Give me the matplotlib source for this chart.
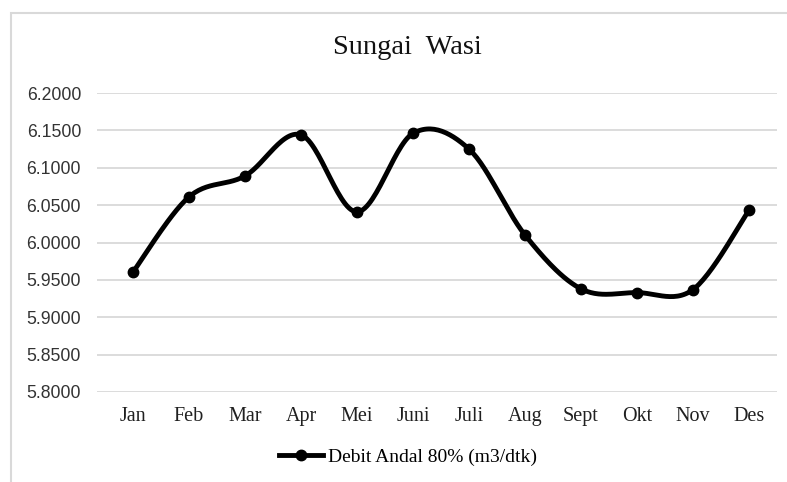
import numpy as np
import matplotlib
matplotlib.use('Agg')
import matplotlib.pyplot as plt
from matplotlib.lines import Line2D
from matplotlib.patches import Rectangle

# data
bulan = ['Jan', 'Feb', 'Mar', 'Apr', 'Mei', 'Juni', 'Juli', 'Aug', 'Sept', 'Okt', 'Nov', 'Des']
debit = [5.9605, 6.0610, 6.0890, 6.1440, 6.0410, 6.1460, 6.1250, 6.0100, 5.9380, 5.9330, 5.9370, 6.0430]
y_ticks = [5.80, 5.85, 5.90, 5.95, 6.00, 6.05, 6.10, 6.15, 6.20]


def smooth(x, y, n=30):
    # excel style smoothing (catmull-rom as bezier)
    x = np.asarray(x, float)
    y = np.asarray(y, float)
    px = np.concatenate([[x[0]], x, [x[-1]]])
    py = np.concatenate([[y[0]], y, [y[-1]]])
    xs, ys = [], []
    t = np.linspace(0, 1, n)
    for i in range(len(x) - 1):
        p0 = np.array([px[i], py[i]])
        p1 = np.array([px[i + 1], py[i + 1]])
        p2 = np.array([px[i + 2], py[i + 2]])
        p3 = np.array([px[i + 3], py[i + 3]])
        c1 = p1 + (p2 - p0) / 6
        c2 = p2 - (p3 - p1) / 6
        for tt in t:
            b = ((1 - tt) ** 3) * p1 + 3 * ((1 - tt) ** 2) * tt * c1 + 3 * (1 - tt) * tt ** 2 * c2 + tt ** 3 * p2
            xs.append(b[0])
            ys.append(b[1])
    return xs, ys


W, H = 7.87, 4.82
fig = plt.figure(figsize=(W, H), dpi=100)

# chart border (only top / left visible, rest cropped)
fig.patches.append(Rectangle((11 / 787, -0.1), 1.2, (482 - 13) / 482 + 0.1,
                             transform=fig.transFigure, fill=False,
                             edgecolor='#d9d9d9', linewidth=1.5))

ax = fig.add_axes([97 / 787, (482 - 392) / 482, 680 / 787, 299 / 482])

x = np.arange(len(bulan))
sx, sy = smooth(x, debit)
ax.plot(sx, sy, color='black', linewidth=3.5, solid_capstyle='round', zorder=3)
ax.plot(x, debit, 'o', color='black', markersize=7.5, zorder=4)

ax.set_xlim((97 - 133) / 56, (777 - 133) / 56)
ax.set_ylim(5.80, 6.20)
ax.set_yticks(y_ticks)
ax.set_yticklabels(['%.4f' % v for v in y_ticks], fontfamily='Liberation Sans', fontsize=12.7, color='#333333')
ax.set_xticks(x)
ax.set_xticklabels(bulan, fontfamily='Liberation Serif', fontsize=14.5, color='#202020')
ax.tick_params(axis='both', length=0)
ax.tick_params(axis='y', pad=11.5)
ax.tick_params(axis='x', pad=10.5)
ax.grid(axis='y', color='#d9d9d9', linewidth=1.3)
ax.set_axisbelow(True)
for s in ax.spines.values():
    s.set_visible(False)

fig.text(407 / 787, 1 - 47 / 482, 'Sungai  Wasi', ha='center', va='center',
         fontfamily='Liberation Serif', fontsize=20.5, color='#111111')

h = Line2D([], [], color='black', linewidth=3.5, marker='o', markersize=7.5)
fig.legend([h], ['Debit Andal 80% (m3/dtk)'], loc='center', bbox_to_anchor=(408 / 787, 1 - 457 / 482),
           frameon=False, prop={'family': 'Liberation Serif', 'size': 14},
           handlelength=2.3, handletextpad=0.25, borderpad=0, borderaxespad=0)

plt.savefig('out.png', dpi=100)
